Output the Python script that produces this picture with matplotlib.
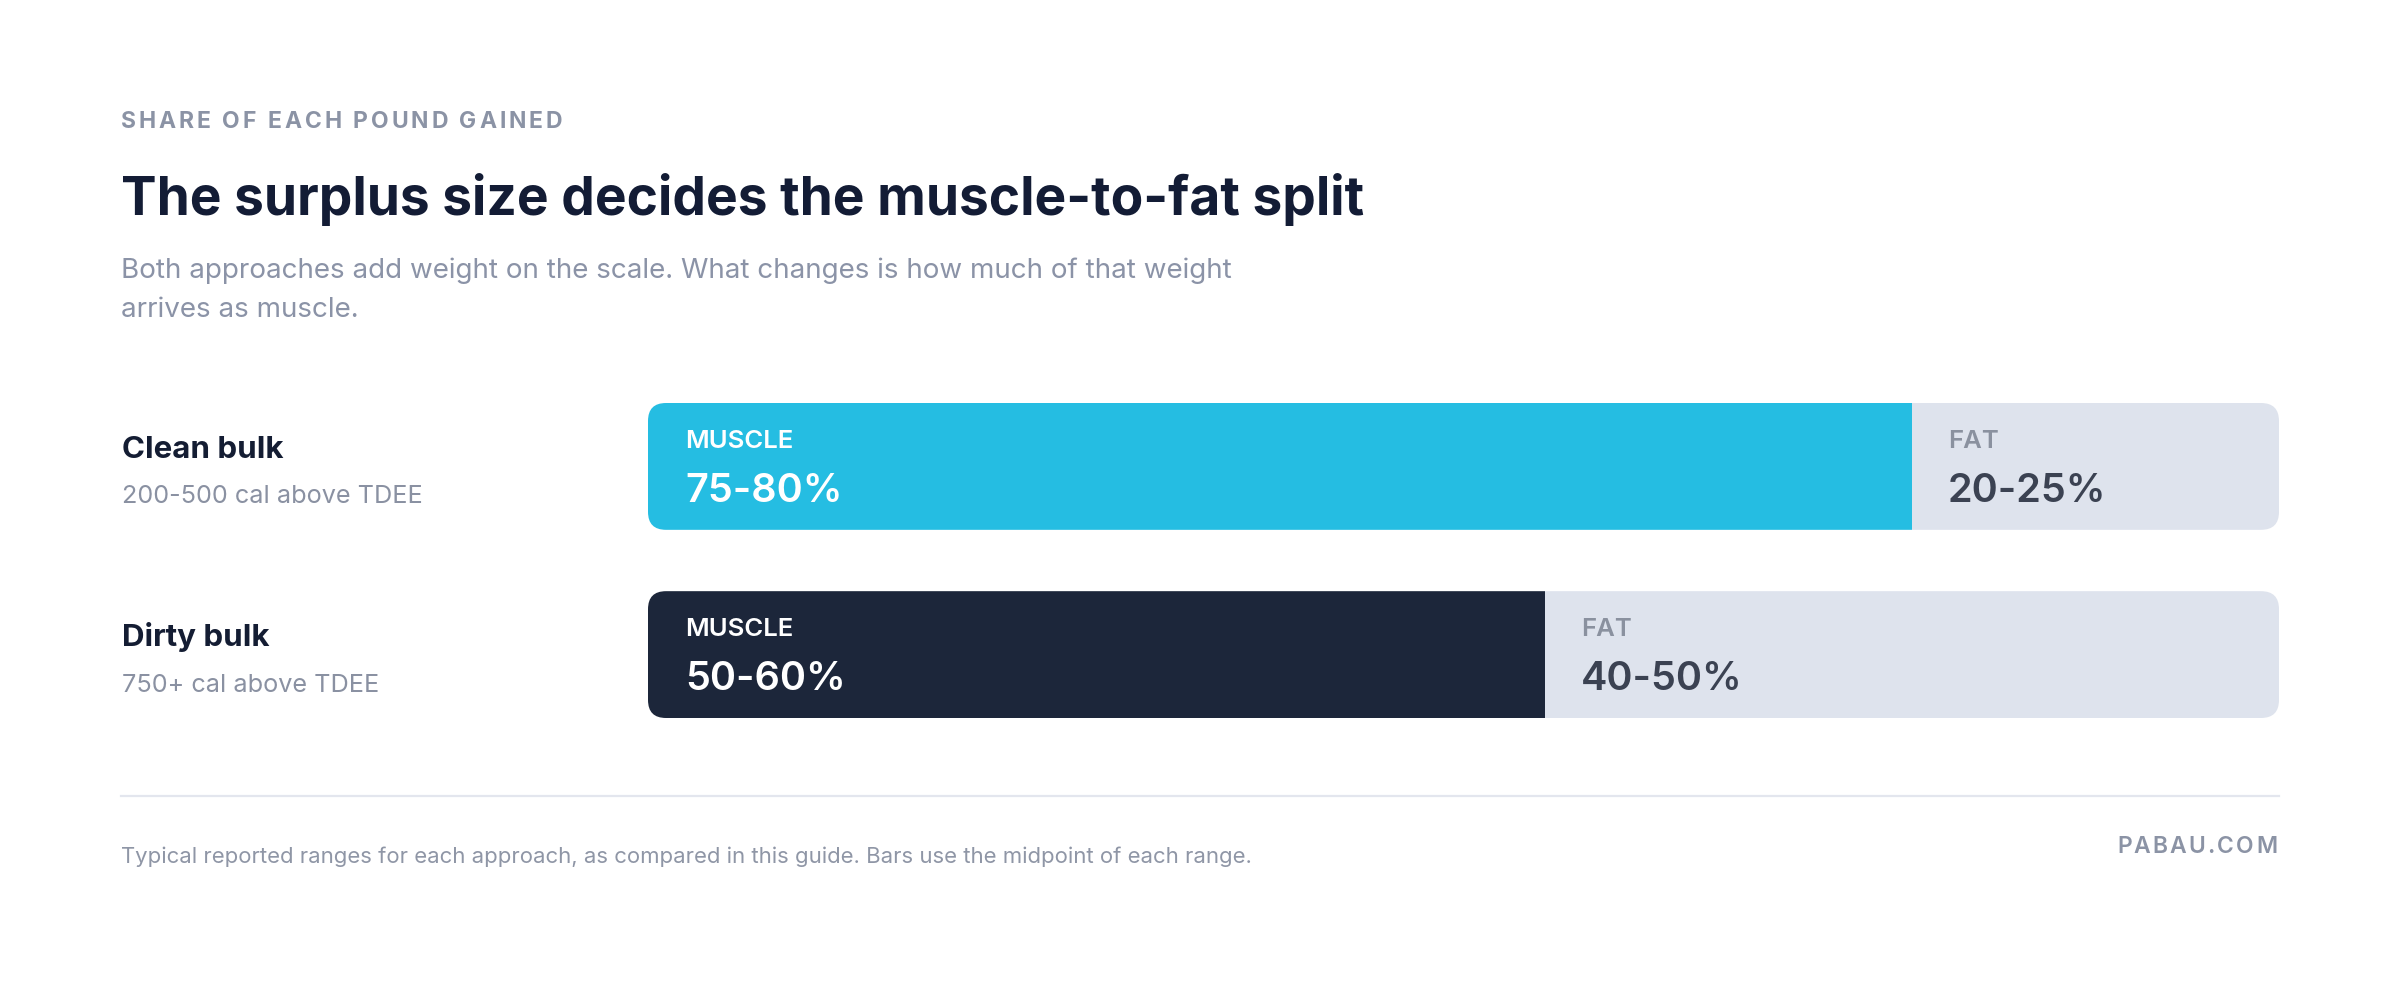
import matplotlib
matplotlib.use("Agg")
import matplotlib.pyplot as plt
from matplotlib.patches import FancyBboxPatch
import matplotlib.transforms as mtransforms

plt.rcParams['font.family'] = ['Inter', 'DejaVu Sans']

W, H = 2400, 990

kicker = "SHARE OF EACH POUND GAINED"
title = "The surplus size decides the muscle-to-fat split"
subtitle = ["Both approaches add weight on the scale. What changes is how much of that weight",
            "arrives as muscle."]
rows = ["Clean bulk", "Dirty bulk"]
row_notes = ["200-500 cal above TDEE", "750+ cal above TDEE"]
muscle_mid = [77.5, 55.0]
muscle_txt = ["75-80%", "50-60%"]
fat_txt = ["20-25%", "40-50%"]
muscle_colors = ["#25bde2", "#1c263a"]
footnote = "Typical reported ranges for each approach, as compared in this guide. Bars use the midpoint of each range."
brand = "PABAU.COM"

fig = plt.figure(figsize=(W / 100, H / 100), dpi=100)
fig.patch.set_facecolor("white")
renderer = fig.canvas.get_renderer()


def px(x, y):
    return x / W, 1 - y / H


def fit(t, w):
    bb = t.get_window_extent(renderer)
    t.set_fontsize(t.get_fontsize() * w / bb.width)
    return t


def spaced(x, y, s, w, ha="left", **kw):
    # letter-spaced caps: lay out char by char
    chars = [fig.text(0, 0, c, **kw) for c in s]
    probe = fig.text(0, 0, "n", **kw)
    sp = probe.get_window_extent(renderer).width * 0.4
    probe.remove()
    widths = [sp if c.get_text() == " " else c.get_window_extent(renderer).width for c in chars]
    gap = (w - sum(widths)) / (len(chars) - 1)
    x0 = x if ha == "left" else x - w
    for c, cw in zip(chars, widths):
        c.set_position(px(x0, y))
        c.set_va("baseline")
        x0 += cw + gap


# header
spaced(121, 128, kicker, 441, fontsize=16.5, fontweight="bold", color="#8b93a5")
fit(fig.text(*px(121, 215), title, fontsize=46, fontweight="bold", color="#131c35", va="baseline"), 1244)
sub = fit(fig.text(*px(121, 278), subtitle[0], fontsize=21, color="#8b93a7", va="baseline"), 1113)
fig.text(*px(121, 317), subtitle[1], fontsize=sub.get_fontsize(), color="#8b93a7", va="baseline")

# row labels
name_y = [458, 646]
note_y = [503, 692]
name_fs = fit(fig.text(0, 0, rows[0], fontsize=23, fontweight="bold"), 161).get_fontsize()
note_fs = fit(fig.text(0, 0, row_notes[0], fontsize=19), 301).get_fontsize()
fig.texts[-1].remove()
fig.texts[-1].remove()
for i in range(len(rows)):
    fig.text(*px(122, name_y[i]), rows[i], fontsize=name_fs, fontweight="bold", color="#141d33", va="baseline")
    fig.text(*px(122, note_y[i]), row_notes[i], fontsize=note_fs, color="#8a91a2", va="baseline")

# bars
left, right, top, bot = 648, 2279, 403, 718
bar_h = 0.674
ax = fig.add_axes([left / W, 1 - bot / H, (right - left) / W, (bot - top) / H])
ax.set_xlim(0, 100)
ax.set_ylim(len(rows) - 1 + bar_h / 2, -bar_h / 2)
ax.axis("off")

ppx = (right - left) / 100.0
ppy = (bot - top) / (len(rows) - 1 + bar_h)
radius = 18 / ppx
fat = [100 - m for m in muscle_mid]
mb = ax.barh(range(len(rows)), muscle_mid, height=bar_h, color=muscle_colors, linewidth=0)
fb = ax.barh(range(len(rows)), fat, left=muscle_mid, height=bar_h, color="#dee3ed", linewidth=0)

for i in range(len(rows)):
    clip = FancyBboxPatch((0, i - bar_h / 2), 100, bar_h,
                          boxstyle="round,pad=0,rounding_size=%f" % radius,
                          mutation_aspect=ppx / ppy, transform=ax.transData,
                          facecolor="none", edgecolor="none")
    ax.add_patch(clip)
    mb[i].set_clip_path(clip)
    fb[i].set_clip_path(clip)


def off(dx, dy):
    return ax.transData + mtransforms.ScaledTranslation(dx / 100, dy / 100, fig.dpi_scale_trans)


for i in range(len(rows)):
    ax.text(0, i, "MUSCLE", transform=off(37, 18.5), fontsize=18.5, fontweight="semibold",
            color="white", va="baseline")
    ax.text(0, i, muscle_txt[i], transform=off(37, -35.5), fontsize=28.5, fontweight="semibold",
            color="white", va="baseline")
    ax.text(muscle_mid[i], i, "FAT", transform=off(36, 18.5), fontsize=18.5, fontweight="semibold",
            color="#8a919f", va="baseline")
    ax.text(muscle_mid[i], i, fat_txt[i], transform=off(36, -35.5), fontsize=28.5, fontweight="semibold",
            color="#3b4252", va="baseline")

# footer
fig.add_artist(plt.Line2D([121 / W, 2279 / W], [1 - 796 / H, 1 - 796 / H], color="#e3e6ee", lw=1.6))
fit(fig.text(*px(121, 863), footnote, fontsize=16.5, color="#8f96a6", va="baseline"), 1128)
spaced(2277, 853, brand, 160, ha="right", fontsize=16.5, fontweight="semibold", color="#8b93a5")

fig.savefig("out.png", dpi=100, facecolor="white")
